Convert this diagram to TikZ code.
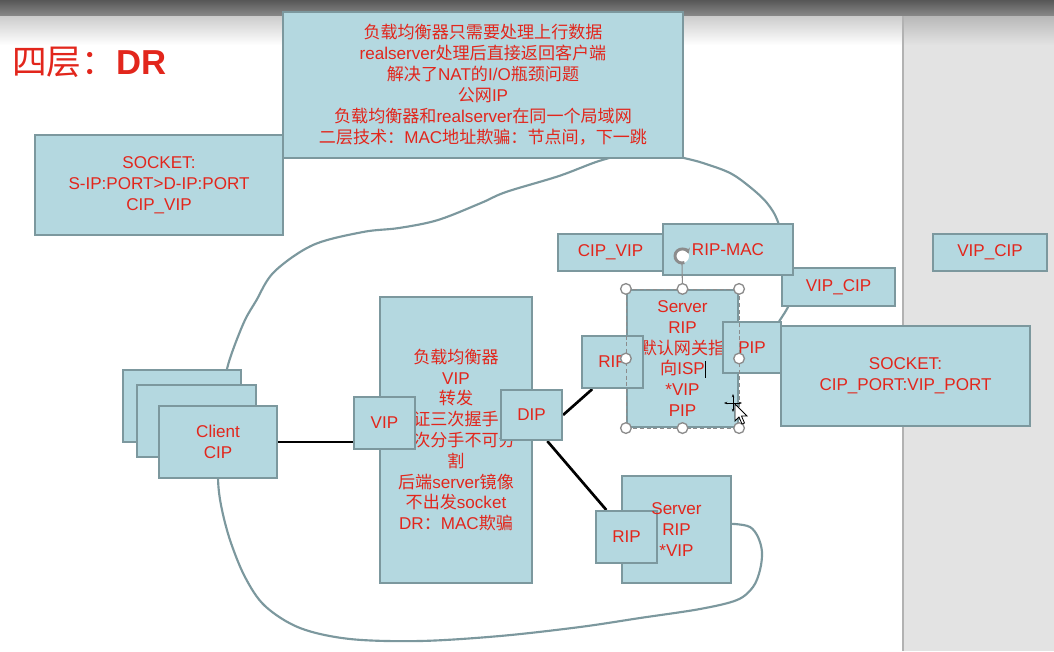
\documentclass[tikz,border=0pt]{standalone}
\usepackage{fontspec}
\setmainfont{Liberation Sans}
\newfontfamily\cjk{Noto Sans CJK SC}
\usetikzlibrary{fit,calc,arrows.meta}
\definecolor{boxc}{RGB}{180,216,224}
\definecolor{bordc}{RGB}{124,152,158}
\definecolor{txtc}{RGB}{226,38,28}
\definecolor{panelc}{RGB}{227,227,227}
\definecolor{handc}{RGB}{140,140,140}
\newcommand\zh[1]{{\cjk #1}}
\pgfdeclarelayer{back}
\pgfdeclarelayer{bg}
\pgfsetlayers{back,bg,main}
\begin{document}
\begin{tikzpicture}[x=0.75pt,y=-0.75pt,
  box/.style={draw=bordc, fill=boxc, line width=1.6pt, inner sep=0pt},
  lbl/.style={inner sep=0pt, align=center, text=txtc, font=\fontsize{12.8}{15.6}\selectfont},
  txt/.style={label={[lbl]center:{#1}}},
  conn/.style={black, line width=2pt},
  curve/.style={bordc, line width=1.6pt, line join=round, line cap=round},
  handle/.style={circle, draw=handc, fill=white, line width=1pt, minimum size=8pt, inner sep=0pt},
]
\useasboundingbox (0,0) rectangle (1054,651);
\begin{pgfonlayer}{back}
  \fill[white] (0,0) rectangle (1054,651);
  \fill[panelc] (903,0) rectangle (1054,651);
  \shade[top color=black!66, bottom color=black!46] (0,0) rectangle (1054,16);
  \shade[top color=black!20, bottom color=white] (0,16) rectangle (903,45);
  \shade[top color=black!28, bottom color=panelc] (903,16) rectangle (1054,45);
  \draw[black!30, line width=0.8pt] (903,16) -- (903,651);
\end{pgfonlayer}

% title
\node[anchor=west, text=txtc, font=\fontsize{26}{30}\selectfont, inner sep=0pt] (title) at (12,62) {\zh{四层：}\textbf{DR}};

% boxes
\node[box, fit={(35,135)(283,235)}, txt={SOCKET:\\S-IP:PORT>D-IP:PORT\\CIP\_VIP}] (sockL) {};
\node[box, fit={(283,12)(683,158)}, label={[lbl, font=\fontsize{12.8}{15.75}\selectfont]center:{\zh{负载均衡器只需要处理上行数据}\\realserver\zh{处理后直接返回客户端}\\\zh{解决了}NAT\zh{的}I/O\zh{瓶颈问题}\\\zh{公网}IP\\\zh{负载均衡器和}realserver\zh{在同一个局域网}\\\zh{二层技术：}MAC\zh{地址欺骗：节点间，下一跳}}}] (top) {};

\node[box, fit={(558,234)(663,271)}, txt={CIP\_VIP}] (cv) {};
\node[box, fit={(782,268)(895,306)}, txt={VIP\_CIP}] (vc1) {};
\node[box, fit={(663,224)(793,275)}, txt={RIP-MAC}] (rmac) {};
\node[box, fit={(933,234)(1047,271)}, txt={VIP\_CIP}] (vc2) {};
\node[box, fit={(781,326)(1030,426)}, txt={SOCKET:\\CIP\_PORT:VIP\_PORT}] (sockR) {};

\node[box, fit={(627,290)(738,427)}, txt={Server\\RIP\\\zh{默认网关指}\\\zh{向}ISP\\{}*VIP\\PIP}] (srv) {};
\node[box, fit={(582,336)(643,388)}, txt={RIP}] (rip1) {};
\node[box, fit={(723,322)(781,373)}, txt={PIP}] (pip) {};

\node[box, fit={(380,297)(532,583)}, txt={\zh{负载均衡器}\\VIP\\\zh{转发}\\\zh{保证三次握手，}\\\zh{四次分手不可分}\\\zh{割}\\\zh{后端}server\zh{镜像}\\\zh{不出发}socket\\DR\zh{：}MAC\zh{欺骗}}] (lb) {};
\node[box, fit={(354,397)(415,449)}, txt={VIP}] (vip) {};
\node[box, fit={(501,390)(562,440)}, txt={DIP}] (dip) {};

\node[box, fit={(123,370)(241,442)}] (cl3) {};
\node[box, fit={(137,385)(256,457)}] (cl2) {};
\node[box, fit={(159,406)(277,478)}, txt={Client\\CIP}] (client) {};

\node[box, fit={(622,476)(731,583)}] (srv2) {};
\node[box, fit={(596,511)(657,563)}, txt={RIP}] (rip2) {};
\node[lbl] (srv2t) at (srv2.center) {Server\\RIP\\{}*VIP};

% connectors and hand-drawn loop behind the boxes
\begin{pgfonlayer}{bg}
  \draw[conn] (client.east) -- (client.east -| vip.west);
  \draw[conn] (dip.east) -- ($(rip1.south west)!0.18!(rip1.south east)$);
  \draw[conn] ($(dip.south)!0.5!(dip.south east)$) -- ($(rip2.north west)!0.18!(rip2.north east)$);
  \draw[curve] plot[smooth, tension=0.55] coordinates {(720,524) (735,524) (750,527) (758,537) (762,552) (760,570) (753,587) (737,600) (700,609) (640,618) (580,627) (500,636) (420,641) (350,639) (300,628) (265,606) (245,577) (230,540) (221,505) (218,477) (220,440) (223,395) (227,369) (234,347) (245,320) (256,301) (274,272) (313,245) (363,232) (399,228) (438,220) (481,203) (506,192) (559,176) (599,161) (640,150)};
  \draw[curve] plot[smooth, tension=0.55] coordinates {(650,150) (684,158) (703,163) (730,173) (750,187) (767,203) (778,222) (788,260) (792,295) (788,307) (780,320) (770,335)};
\end{pgfonlayer}

% selection overlay on the upper server box
\draw[handc, densely dashed, line width=0.5pt] (srv.north west) rectangle (srv.south east);
\draw[handc, line width=0.8pt] (srv.north) -- (682,264);
\fill[white] (682,256) circle (7);
\draw[handc, line width=2.2pt, -{Stealth[length=4pt,width=5pt]}] (682,256) ++(70:7) arc[start angle=70, end angle=340, radius=7];
\foreach \a/\n in {north west/a, north/b, north east/c, west/d, east/e, south west/f, south/g, south east/h}
  \node[handle] (h\n) at (srv.\a) {};
\draw[black, line width=0.6pt] (705,361) -- (705,378);

% mouse pointer
\draw[black, line width=0.7pt, {Stealth[length=2.5pt]}-{Stealth[length=2.5pt]}] (724,403) -- (742,403);
\draw[black, line width=0.7pt, {Stealth[length=2.5pt]}-{Stealth[length=2.5pt]}] (733,394) -- (733,412);
\filldraw[fill=white, draw=black, line width=0.6pt] (735,404) -- (735,421) -- (739,417) -- (742,424) -- (744.5,423) -- (741.5,416) -- (747,416) -- cycle;
\end{tikzpicture}
\end{document}
